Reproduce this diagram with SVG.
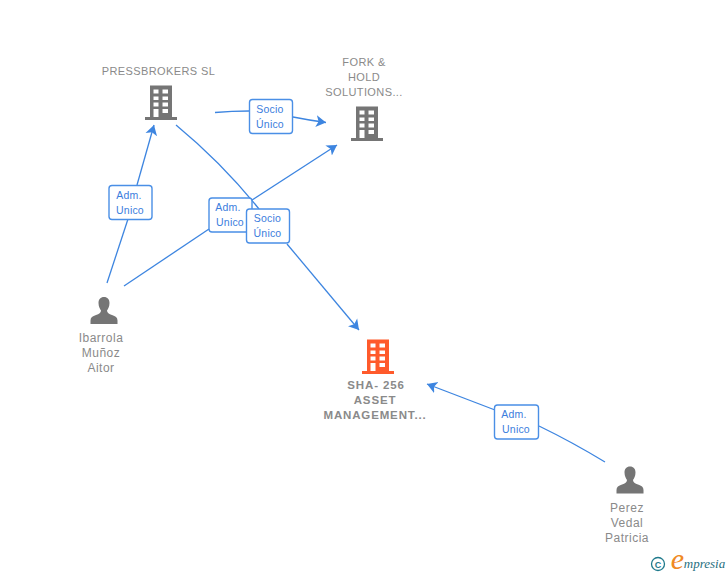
<svg xmlns="http://www.w3.org/2000/svg" xmlns:xlink="http://www.w3.org/1999/xlink" width="728" height="575" viewBox="0 0 728 575">
<style>
text{font-family:"Liberation Sans",Arial,sans-serif;text-anchor:middle}
.n{font-size:12px;fill:#8a8a8a;letter-spacing:.5px}
.u{font-size:11px;letter-spacing:.4px}
.b{font-size:11.500px;font-weight:bold;letter-spacing:.85px}
.l{font-size:10.500px;fill:#3b7ddd;letter-spacing:.2px}
.c{fill:none;stroke:#3d85e0;stroke-width:1.3}
.box{fill:#fff;stroke:#4a8fe6;stroke-width:1.400}
</style>
<defs>
<marker id="a" markerUnits="userSpaceOnUse" markerWidth="12" markerHeight="14" refX="10" refY="7" orient="auto"><path d="M0 1 L10 7 L0 13 L2.500 7Z" fill="#3d85e0"/></marker>
<symbol id="bld" width="34" height="36" viewBox="0 0 34 36" overflow="visible">
<path fill-rule="evenodd" d="M5 0.500H27V32H32V35H0V32H5ZM8.500 4.500V8.500H13.500V4.500ZM17.500 4.500V8.500H23V4.500ZM8.500 11.500V15H13.500V11.500ZM17.500 11.500V15H23V11.500ZM8.500 17.500V21.500H13.500V17.500ZM17.500 17.500V21.500H23V17.500ZM8.500 24V32H13.500V24ZM17.500 24V28H23V24Z"/>
</symbol>
<symbol id="psn" width="28" height="28" viewBox="0 0 28 28" overflow="visible">
<path d="M14 0.500C17.500 0.500 19.500 3 19.500 6.500C19.500 10 18 12.500 17 14C17 16.500 19 17.500 22 18.500C25.500 19.700 27.500 21 27.500 24V27.500H0.500V24C0.500 21 2.500 19.700 6 18.500C9 17.500 11 16.500 11 14C10 12.500 8.500 10 8.500 6.500C8.500 3 10.500 0.500 14 0.500Z"/>
</symbol>
</defs>
<rect width="728" height="575" fill="#fff"/>
<g id="connectors">
<path class="c" d="M215 112.500Q232 111 249 111"/>
<path class="c" d="M293 117Q308 120 326 122.500" marker-end="url(#a)"/>
<path class="c" d="M107 283L128 219"/>
<path class="c" d="M137 185L154 125" marker-end="url(#a)"/>
<path class="c" d="M124 286L209 229"/>
<path class="c" d="M252 200L337 145" marker-end="url(#a)"/>
<path class="c" d="M176 125Q222 163 259 209"/>
<path class="c" d="M287 244L359 330" marker-end="url(#a)"/>
<path class="c" d="M495 410L427 384" marker-end="url(#a)"/>
<path class="c" d="M539 426Q572 442 605 462"/>
</g>
<g id="node-pressbrokers"><use xlink:href="#bld" href="#bld" x="145" y="85" fill="#757575"/><text class="n u" x="158.500" y="75">PRESSBROKERS SL</text></g>
<g id="node-fork"><use xlink:href="#bld" href="#bld" x="351" y="106" fill="#757575"/><text class="n u" x="364" y="66">FORK &amp;</text><text class="n u" x="364" y="81">HOLD</text><text class="n u" x="364" y="96">SOLUTIONS...</text></g>
<g id="node-sha"><use xlink:href="#bld" href="#bld" x="362" y="339" fill="#ff5a2b"/><text class="n b" x="376" y="389">SHA- 256</text><text class="n b" x="375" y="404">ASSET</text><text class="n b" x="375" y="419">MANAGEMENT...</text></g>
<g id="node-ibarrola"><use xlink:href="#psn" href="#psn" x="90" y="296.500" fill="#757575"/><text class="n" x="101" y="342">Ibarrola</text><text class="n" x="101" y="357">Muñoz</text><text class="n" x="101" y="372">Aitor</text></g>
<g id="node-perez"><use xlink:href="#psn" href="#psn" x="616" y="466" fill="#757575"/><text class="n" x="627" y="512">Perez</text><text class="n" x="627" y="527">Vedal</text><text class="n" x="627" y="542">Patricia</text></g>
<g id="label-socio1"><rect class="box" x="249.500" y="99.500" width="43" height="34" rx="3"/><text class="l" x="270" y="113">Socio</text><text class="l" x="270" y="128">Único</text></g>
<g id="label-adm1"><rect class="box" x="109" y="185.500" width="43" height="34" rx="3"/><text class="l" x="129" y="199">Adm.</text><text class="l" x="130" y="214">Unico</text></g>
<g id="label-adm2"><rect class="box" x="209" y="198" width="43" height="34" rx="3"/><text class="l" x="228" y="211">Adm.</text><text class="l" x="230" y="226">Unico</text></g>
<g id="label-socio2"><rect class="box" x="246.500" y="209" width="43" height="34" rx="3"/><text class="l" x="267.500" y="222">Socio</text><text class="l" x="267.500" y="237">Único</text></g>
<g id="label-adm3"><rect class="box" x="494.500" y="405" width="44" height="34" rx="3"/><text class="l" x="514" y="418">Adm.</text><text class="l" x="516" y="433">Unico</text></g>
<g id="credit">
<circle cx="658" cy="564" r="6.500" fill="none" stroke="#1f7a8c" stroke-width="1.300"/>
<text x="658" y="567.500" style="font-size:9px;font-weight:bold;fill:#1f7a8c">C</text>
<text x="677.500" y="569" style="font-family:'Liberation Serif',serif;font-size:30px;font-style:italic;fill:#f08a24">e</text>
<text x="704.500" y="568" style="font-family:'Liberation Serif',serif;font-size:13px;font-style:italic;fill:#1f6f80">mpresia</text>
</g>
</svg>
